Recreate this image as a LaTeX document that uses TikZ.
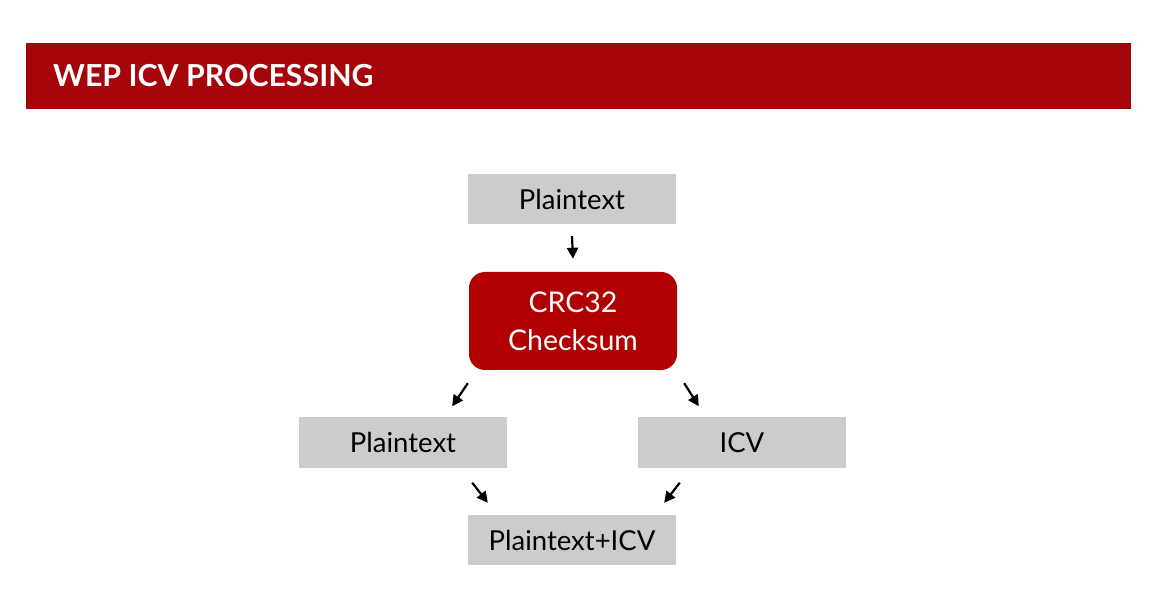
\documentclass[tikz,border=0pt]{standalone}
\usepackage{fontspec}
\setmainfont{Lato}
\usetikzlibrary{calc,arrows.meta}
\definecolor{hdrred}{RGB}{165,5,10}
\definecolor{boxred}{RGB}{176,0,2}
\definecolor{boxgray}{RGB}{204,204,204}
\tikzset{
  graybox/.style={fill=boxgray, draw=none, minimum width=208pt, minimum height=50pt, inner sep=0pt,
    font=\fontsize{27.5}{32}\selectfont, text=black},
  redbox/.style={fill=boxred, draw=none, rounded corners=16pt, minimum width=208pt, minimum height=98pt,
    inner sep=0pt, align=center, text=white, font=\fontsize{28.5}{38}\selectfont},
  arr/.style={line width=2.2pt, -{Triangle[length=11pt,width=11pt]}}
}
\begin{document}
\begin{tikzpicture}[x=1pt,y=-1pt]
\useasboundingbox[fill=white] (0,0) rectangle (1173,593);
\node[fill=hdrred, minimum width=1105pt, minimum height=66pt, inner sep=0pt, anchor=north west] (hdr) at (26,43) {};
\node[anchor=base west, inner sep=0pt, text=white, font=\bfseries\fontsize{30.3}{34}\selectfont] (title) at (53,86.5) {WEP ICV PROCESSING};
\node[graybox] (top) at (572,199) {Plaintext};
\node[redbox] (crc) at (573,321) {CRC32\\Checksum};
\node[graybox] (lp) at (403,442.5) {Plaintext};
\node[graybox] (icv) at (742,442.5) {ICV};
\node[graybox] (out) at (572,540) {Plaintext+ICV};
\draw[arr] ($(top.south)+(0,12)$) -- ($(crc.north)+(0,-13)$);
\draw[arr] ($(crc.south west)+(-1,13)$) -- ($(lp.north east)+(-55,-11)$);
\draw[arr] ($(crc.south east)+(7,13)$) -- ($(icv.north west)+(61,-11)$);
\draw[arr] ($(lp.south east)+(-35,15)$) -- ($(out.north west)+(20,-12)$);
\draw[arr] ($(icv.south west)+(42,15)$) -- ($(out.north east)+(-12,-12)$);
\end{tikzpicture}
\end{document}
